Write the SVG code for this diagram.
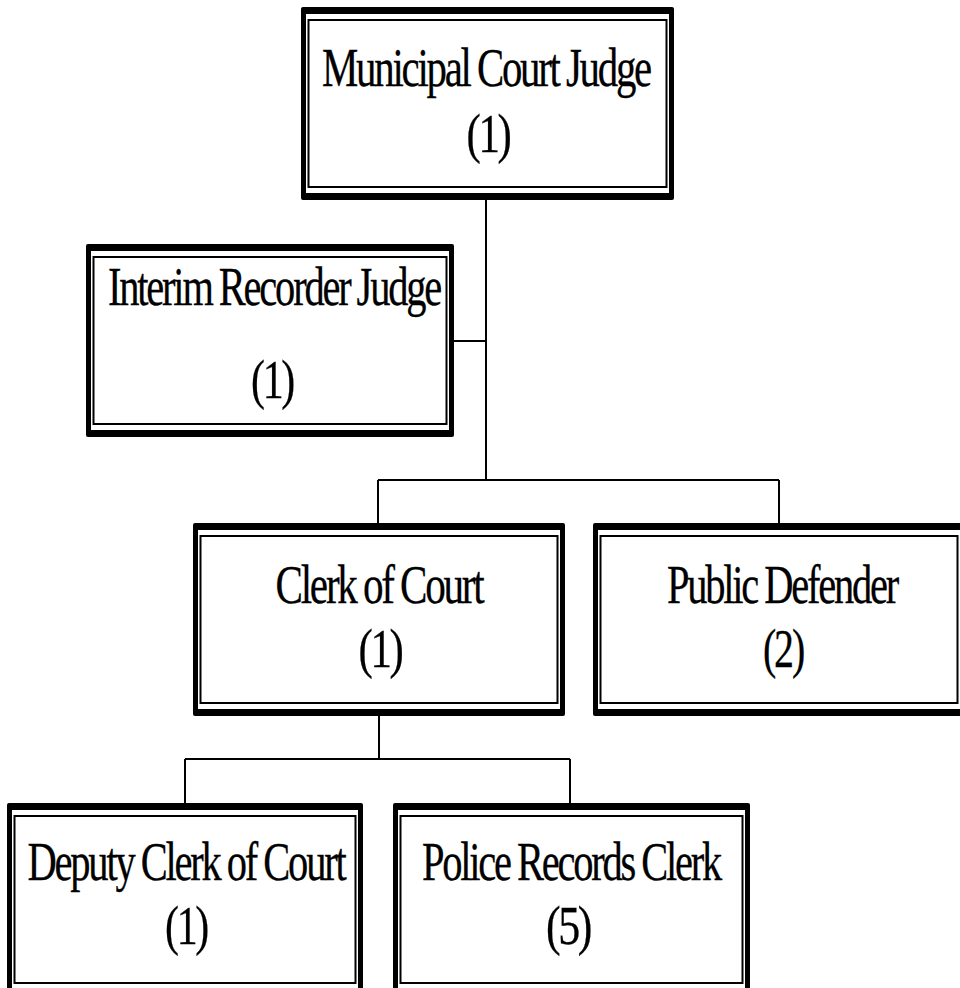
<svg xmlns="http://www.w3.org/2000/svg" width="960" height="988" viewBox="0 0 960 988">
  <style>
    .frame { fill: #000; }
    .pane { fill: #fff; }
    .rule { fill: none; stroke: #000; stroke-width: 2; }
    .link { fill: none; stroke: #000; stroke-width: 2; }
    .label { font-family: "Liberation Serif", "Times New Roman", serif; font-size: 55px; fill: #000; stroke: #000; stroke-width: 0.3; text-anchor: middle; letter-spacing: -3px; word-spacing: -1px; }
  </style>
  <rect x="0" y="0" width="960" height="988" fill="#fff"/>

  <!-- connectors -->
  <g id="connectors">
    <path class="link" d="M486,200 V480 M454,341 H486 M378,480 H779 M378,480 V523 M779,480 V523"/>
    <path class="link" d="M379,716 V759 M185,759 H570 M185,759 V803 M570,759 V803"/>
  </g>

  <!-- Municipal Court Judge -->
  <g id="judge">
    <rect class="frame" x="301" y="7" width="373" height="193" rx="2"/>
    <rect class="pane" x="306" y="14" width="363" height="179"/>
    <rect class="rule" x="308.5" y="20" width="358" height="167"/>
    <text class="label" x="486" y="86" textLength="328" lengthAdjust="spacingAndGlyphs">Municipal Court Judge</text>
    <text class="label" x="488" y="152" textLength="43" lengthAdjust="spacingAndGlyphs">(1)</text>
  </g>

  <!-- Interim Recorder Judge -->
  <g id="recorder">
    <rect class="frame" x="86" y="244" width="368" height="193" rx="2"/>
    <rect class="pane" x="91" y="251" width="358" height="179"/>
    <rect class="rule" x="93.5" y="257" width="353" height="167"/>
    <text class="label" x="274" y="305" textLength="332" lengthAdjust="spacingAndGlyphs">Interim Recorder Judge</text>
    <text class="label" x="272" y="398" textLength="42" lengthAdjust="spacingAndGlyphs">(1)</text>
  </g>

  <!-- Clerk of Court -->
  <g id="clerk">
    <rect class="frame" x="193" y="523" width="372" height="193" rx="2"/>
    <rect class="pane" x="198" y="530" width="362" height="179"/>
    <rect class="rule" x="200.5" y="536" width="357" height="167"/>
    <text class="label" x="379" y="603" textLength="207" lengthAdjust="spacingAndGlyphs">Clerk of Court</text>
    <text class="label" x="380" y="667" textLength="43" lengthAdjust="spacingAndGlyphs">(1)</text>
  </g>

  <!-- Public Defender -->
  <g id="defender">
    <rect class="frame" x="593" y="523" width="372" height="193" rx="2"/>
    <rect class="pane" x="598" y="530" width="362" height="179"/>
    <rect class="rule" x="600.5" y="536" width="357" height="167"/>
    <text class="label" x="782" y="603" textLength="230" lengthAdjust="spacingAndGlyphs">Public Defender</text>
    <text class="label" x="783" y="667" textLength="40" lengthAdjust="spacingAndGlyphs">(2)</text>
  </g>

  <!-- Deputy Clerk of Court -->
  <g id="deputy">
    <rect class="frame" x="7" y="803" width="356" height="193" rx="2"/>
    <rect class="pane" x="12" y="810" width="346" height="179"/>
    <rect class="rule" x="14.5" y="816" width="341" height="167"/>
    <text class="label" x="186" y="880" textLength="317" lengthAdjust="spacingAndGlyphs">Deputy Clerk of Court</text>
    <text class="label" x="186" y="944" textLength="42" lengthAdjust="spacingAndGlyphs">(1)</text>
  </g>

  <!-- Police Records Clerk -->
  <g id="records">
    <rect class="frame" x="393" y="803" width="357" height="193" rx="2"/>
    <rect class="pane" x="398" y="810" width="347" height="179"/>
    <rect class="rule" x="400.5" y="816" width="342" height="167"/>
    <text class="label" x="571" y="880" textLength="298" lengthAdjust="spacingAndGlyphs">Police Records Clerk</text>
    <text class="label" x="568" y="944" textLength="44" lengthAdjust="spacingAndGlyphs">(5)</text>
  </g>
</svg>
